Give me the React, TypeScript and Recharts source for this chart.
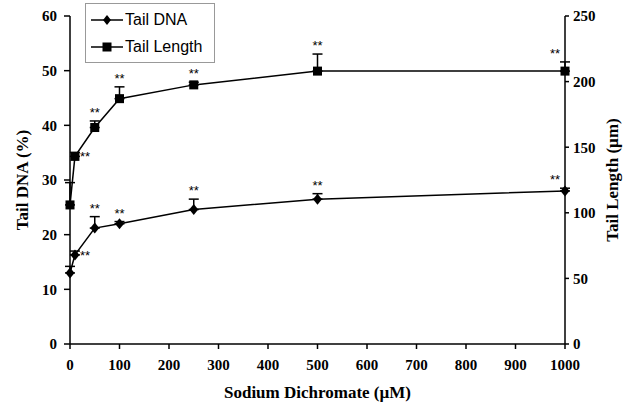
import React from 'react';
import { ComposedChart, Line, XAxis, YAxis, ErrorBar } from 'recharts';

// dose levels (µM)
const doses = [0, 10, 50, 100, 250, 500, 1000];
// Tail DNA (%) – left axis
const tailDna = [13, 16.3, 21.2, 22, 24.6, 26.5, 28];
const tailDnaErr = [1.2, 0.7, 2.1, 0.4, 1.9, 1.0, 0.5];
// Tail Length (µm) – right axis
const tailLength = [106, 143, 165, 187, 197.5, 208, 208];
const tailLengthErr = [17, 3, 5, 9, 2, 13, 7];
// significance marks
const dnaStars = ['', '**', '**', '**', '**', '**', '**'];
const lengthStars = ['', '**', '**', '**', '**', '**', '**'];

const xTicks = [0, 100, 200, 300, 400, 500, 600, 700, 800, 900, 1000];
const leftTicks = [0, 10, 20, 30, 40, 50, 60];
const rightTicks = [0, 50, 100, 150, 200, 250];

const data = doses.map((d, i) => ({
  dose: d,
  dna: tailDna[i],
  dnaErr: [0, tailDnaErr[i]],
  dnaTop: tailDna[i] + tailDnaErr[i],
  len: tailLength[i],
  lenErr: [0, tailLengthErr[i]],
  lenTop: tailLength[i] + tailLengthErr[i],
}));

const SERIF = '"Liberation Serif", "Times New Roman", serif';
const SANS = '"Liberation Sans", Arial, sans-serif';

const tickStyle = { fontFamily: SERIF, fontWeight: 700, fontSize: 15, fill: '#000' };
const titleStyle = { ...tickStyle, fontSize: 17, textAnchor: 'middle' as const };

const Diamond = (props: any) => {
  const { cx, cy, index } = props;
  if (cx == null || cy == null) return null;
  return <path key={`d-${index}`} d={`M${cx},${cy - 5.5}L${cx + 4.5},${cy}L${cx},${cy + 5.5}L${cx - 4.5},${cy}Z`} fill="#000" />;
};

const Square = (props: any) => {
  const { cx, cy, index } = props;
  if (cx == null || cy == null) return null;
  return <rect key={`s-${index}`} x={cx - 4.5} y={cy - 4.5} width={9} height={9} fill="#000" />;
};

const makeStar = (stars: string[]) => (props: any) => {
  const { x, y, index } = props;
  const txt = stars[index];
  if (!txt || x == null || y == null) return null;
  let tx = x;
  let ty = y - 4;
  let anchor: 'middle' | 'start' = 'middle';
  if (index === 1) {
    tx = x + 5;
    ty = y + 9;
    anchor = 'start';
  } else if (index === stars.length - 1) {
    tx = x - 10;
  }
  return (
    <text key={`st-${index}`} x={tx} y={ty} textAnchor={anchor} fontFamily={SANS} fontSize={13} fill="#000">
      {txt}
    </text>
  );
};

const LegendBox = () => (
  <div
    style={{
      position: 'absolute',
      left: 85,
      top: 3,
      border: '1px solid #999',
      background: '#fff',
      padding: '2px 6px 2px 4px',
      fontFamily: SANS,
      fontSize: 16,
      lineHeight: '27px',
      width: 118,
    }}
  >
    <div style={{ display: 'flex', alignItems: 'center' }}>
      <svg width={34} height={14}>
        <line x1={1} y1={7} x2={33} y2={7} stroke="#000" strokeWidth={1.5} />
        <path d="M17,2L21,7L17,12L13,7Z" fill="#000" />
      </svg>
      <span style={{ marginLeft: 1 }}>Tail DNA</span>
    </div>
    <div style={{ display: 'flex', alignItems: 'center' }}>
      <svg width={34} height={14}>
        <line x1={1} y1={7} x2={33} y2={7} stroke="#000" strokeWidth={1.5} />
        <rect x={12.5} y={2.5} width={9} height={9} fill="#000" />
      </svg>
      <span style={{ marginLeft: 1 }}>Tail Length</span>
    </div>
  </div>
);

export default function App() {
  return (
    <div style={{ position: 'absolute', left: 0, top: 0, width: 629, height: 406, background: '#fff' }}>
      <ComposedChart width={629} height={406} data={data} margin={{ top: 16, right: 10, bottom: 8, left: 10 }}>
        <XAxis
          dataKey="dose"
          type="number"
          domain={[0, 1000]}
          ticks={xTicks}
          tick={tickStyle}
          tickSize={5}
          tickMargin={10}
          height={54}
          stroke="#000"
          strokeWidth={1.5}
          label={{ value: 'Sodium Dichromate (µM)', position: 'insideBottom', offset: 0, style: titleStyle }}
        />
        <YAxis
          yAxisId="left"
          domain={[0, 60]}
          ticks={leftTicks}
          tick={tickStyle}
          tickSize={6}
          tickMargin={7}
          width={60}
          stroke="#000"
          strokeWidth={1.5}
          label={{ value: 'Tail DNA (%)', angle: -90, position: 'insideLeft', offset: 12, style: titleStyle }}
        />
        <YAxis
          yAxisId="right"
          orientation="right"
          domain={[0, 250]}
          ticks={rightTicks}
          tick={tickStyle}
          tickSize={4}
          tickMargin={4}
          width={54}
          stroke="#000"
          strokeWidth={1.5}
          label={{ value: 'Tail Length (µm)', angle: -90, position: 'insideRight', offset: 7, style: titleStyle }}
        />
        <Line
          yAxisId="left"
          dataKey="dna"
          stroke="#000"
          strokeWidth={1.5}
          dot={Diamond}
          activeDot={false}
          isAnimationActive={false}
        >
          <ErrorBar dataKey="dnaErr" direction="y" width={5} stroke="#000" strokeWidth={1.5} />
        </Line>
        <Line
          yAxisId="right"
          dataKey="len"
          stroke="#000"
          strokeWidth={1.5}
          dot={Square}
          activeDot={false}
          isAnimationActive={false}
        >
          <ErrorBar dataKey="lenErr" direction="y" width={5} stroke="#000" strokeWidth={1.5} />
        </Line>
        <Line
          yAxisId="left"
          dataKey="dnaTop"
          stroke="none"
          dot={false}
          activeDot={false}
          isAnimationActive={false}
          label={makeStar(dnaStars)}
        />
        <Line
          yAxisId="right"
          dataKey="lenTop"
          stroke="none"
          dot={false}
          activeDot={false}
          isAnimationActive={false}
          label={makeStar(lengthStars)}
        />
      </ComposedChart>
      <LegendBox />
    </div>
  );
}
